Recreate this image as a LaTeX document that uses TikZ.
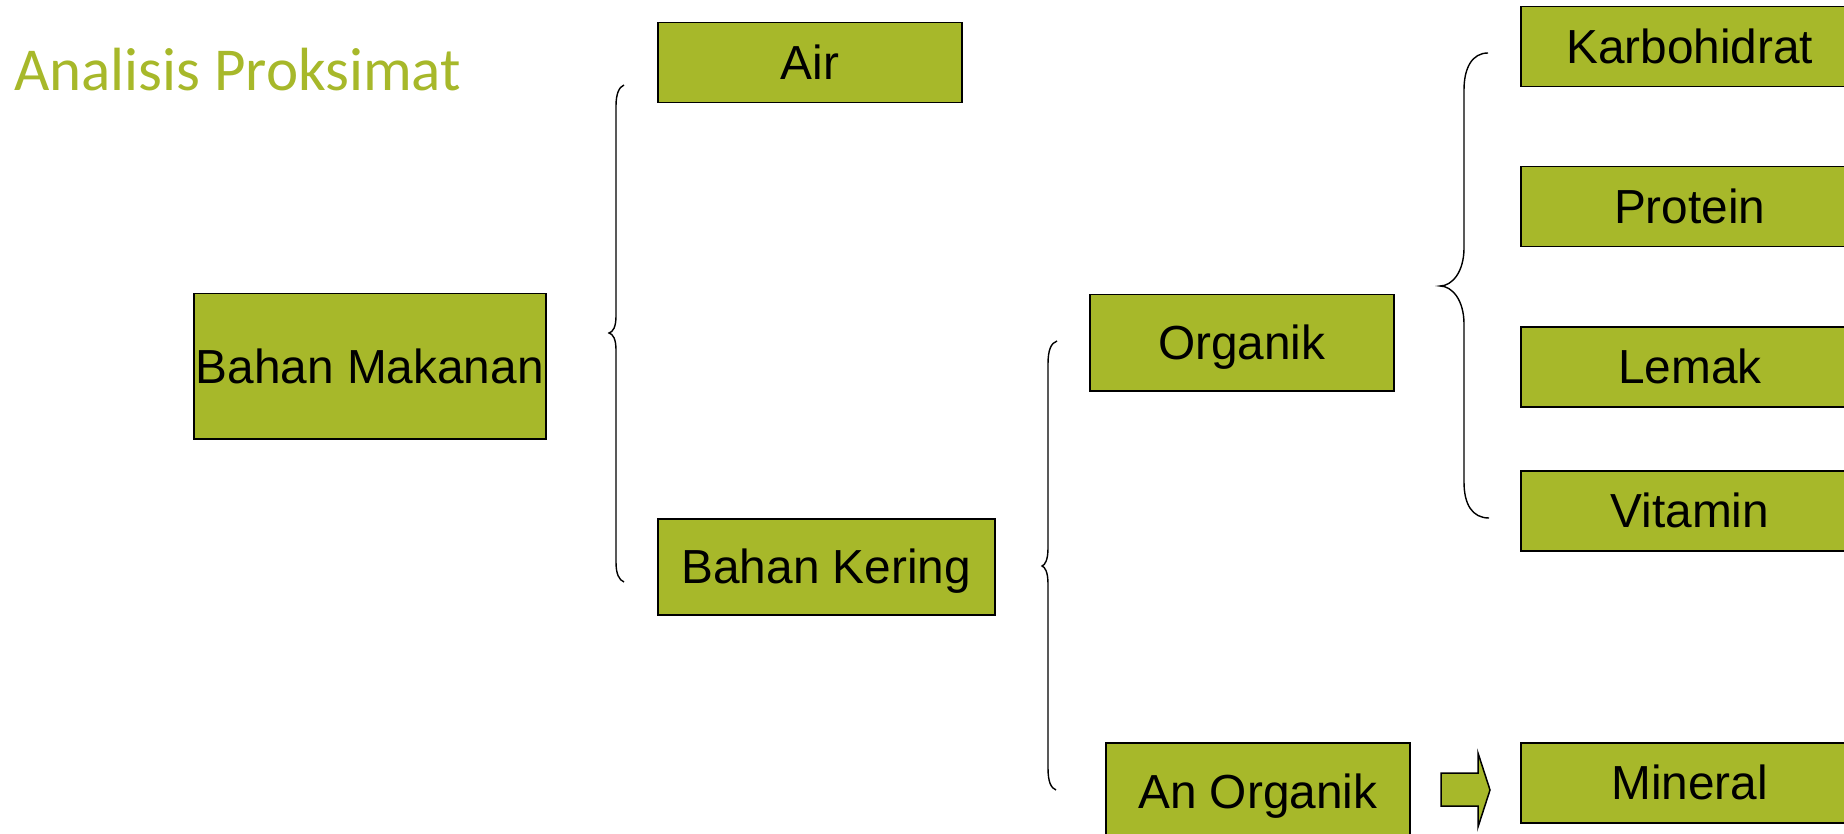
\documentclass[tikz,border=0pt]{standalone}
\usepackage{fontspec}
\setmainfont{Liberation Sans}
\newfontfamily\titlefont{Carlito}
\definecolor{leaf}{HTML}{A7B82A}
\begin{document}
\begin{tikzpicture}[x=1pt,y=-1pt,
  box/.style={draw=black, line width=1.5pt, fill=leaf, inner sep=0pt, anchor=north west,
    font=\fontsize{47.8}{50}\selectfont, text=black, text height=34pt, text depth=0pt},
  rbox/.style={box, minimum width=338pt, minimum height=80pt},
  brace/.style={draw=black, line width=1.4pt}]
\useasboundingbox (0,0) rectangle (1844,834);
\clip (0,0) rectangle (1844,834);
\node[anchor=base west, text=leaf, font=\titlefont\fontsize{61}{64}\selectfont, inner sep=0pt] (title) at (14,91) {Analisis Proksimat};

\node[box, minimum width=352pt, minimum height=145pt] (bm) at (193,293) {Bahan Makanan};
\node[box, minimum width=304pt, minimum height=80pt] (air) at (657,22) {Air};
\node[box, minimum width=337pt, minimum height=96pt] (bk) at (657,518) {Bahan Kering};
\node[box, minimum width=304pt, minimum height=96pt] (org) at (1089,294) {Organik};
\node[box, minimum width=304pt, minimum height=98pt] (anorg) at (1105,742) {An Organik};
\node[rbox] (karbo) at (1520,6) {Karbohidrat};
\node[rbox] (prot) at (1520,166) {Protein};
\node[rbox] (lemak) at (1520,326) {Lemak};
\node[rbox] (vit) at (1520,470) {Vitamin};
\node[rbox] (min) at (1520,742) {Mineral};

% braces
\draw[brace] (624,85) .. controls (619,87) and (616,94) .. (616,106) -- (616,316)
  .. controls (616,327) and (613,332) .. (609,333) .. controls (613,334) and (616,339) .. (616,350)
  -- (616,562) .. controls (616,574) and (619,580) .. (624,582);
\draw[brace] (1057,341) .. controls (1051,343) and (1048,350) .. (1048,364) -- (1048,548)
  .. controls (1048,560) and (1045,565) .. (1042,566) .. controls (1045,567) and (1048,572) .. (1048,584)
  -- (1048,768) .. controls (1048,782) and (1051,788) .. (1056,790);
\draw[brace] (1488,53) .. controls (1472,53) and (1464,68) .. (1464,90) -- (1464,248)
  .. controls (1464,272) and (1452,286) .. (1440,286) .. controls (1452,286) and (1464,300) .. (1464,324)
  -- (1464,482) .. controls (1464,504) and (1472,518) .. (1489,518);

% block arrow
\draw[line width=1.5pt, fill=leaf, line join=miter] (1441,773) -- (1478,773) -- (1478,753) -- (1490,790)
  -- (1478,827) -- (1478,806) -- (1441,806) -- cycle;
\end{tikzpicture}
\end{document}
